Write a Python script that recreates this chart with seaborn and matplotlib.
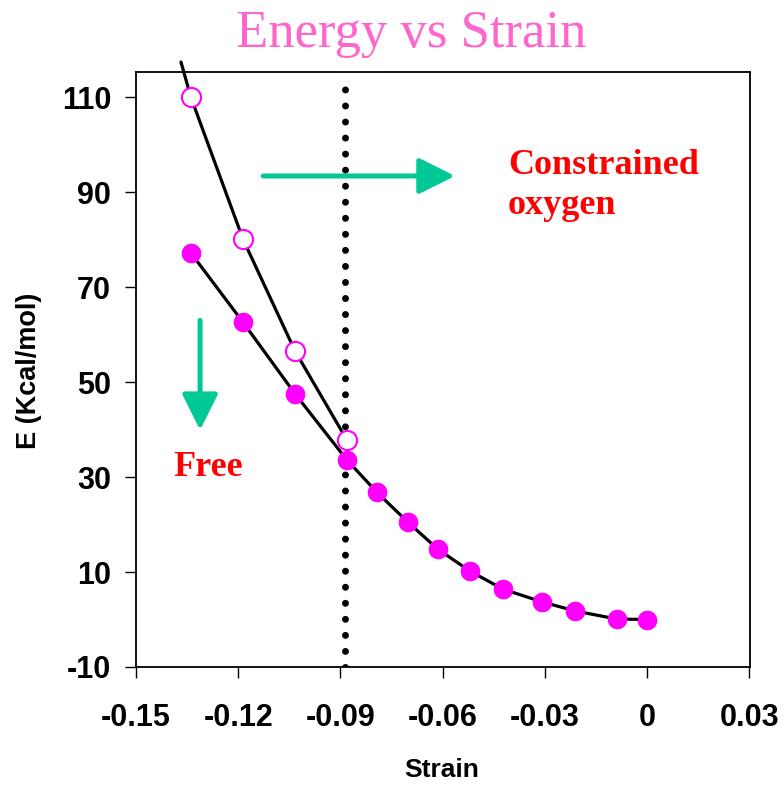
import matplotlib
matplotlib.use("Agg")
import matplotlib.pyplot as plt
import seaborn as sns
import pandas as pd

# Free relaxation: energy vs strain
free_strain = [-0.1339, -0.1186, -0.1033, -0.0881, -0.0793, -0.0702, -0.0614,
               -0.0520, -0.0423, -0.0308, -0.0211, -0.0089, 0.0]
free_energy = [77.2, 62.6, 47.5, 33.6, 26.8, 20.5, 14.8, 10.2, 6.4, 3.7, 1.8, 0.1, 0.0]

# Constrained oxygen: energy vs strain
cons_strain = [-0.1339, -0.1186, -0.1033, -0.0881]
cons_energy = [110.0, 80.1, 56.5, 37.8]
# continuation of the constrained curve beyond the plotted range
cons_ext_strain = [-0.1368]
cons_ext_energy = [117.4]

critical_strain = -0.0887

x_ticks = [-0.15, -0.12, -0.09, -0.06, -0.03, 0, 0.03]
x_tick_labels = ["-0.15", "-0.12", "-0.09", "-0.06", "-0.03", "0", "0.03"]
y_ticks = [-10, 10, 30, 50, 70, 90, 110]

sns.set_theme(style="white")
plt.rcParams["font.family"] = ["Liberation Sans", "DejaVu Sans"]
plt.rcParams.update({"text.color": "black", "axes.labelcolor": "black",
                     "xtick.color": "black", "ytick.color": "black"})

fig = plt.figure(figsize=(7.84, 7.87), dpi=100)
ax = fig.add_axes([136 / 784, 1 - 667 / 787, (750 - 136) / 784, (667 - 72) / 787])

free_df = pd.DataFrame({"strain": free_strain, "energy": free_energy})
cons_line_df = pd.DataFrame({"strain": cons_ext_strain + cons_strain,
                             "energy": cons_ext_energy + cons_energy})
cons_df = pd.DataFrame({"strain": cons_strain, "energy": cons_energy})

magenta = "#FF00FF"
teal = "#00C896"

# vertical dotted marker at the critical strain
ax.axvline(critical_strain, ymin=0, ymax=0.98, color="black", lw=5,
           linestyle=(0, (0.01, 2.3)), dash_capstyle="round", zorder=1)

# connecting curves
sns.lineplot(data=cons_line_df, x="strain", y="energy", color="black", lw=2.3,
             sort=False, ax=ax, zorder=2, clip_on=False)
sns.lineplot(data=free_df, x="strain", y="energy", color="black", lw=2.3,
             sort=False, ax=ax, zorder=2)

# markers
sns.scatterplot(data=cons_df, x="strain", y="energy", s=190, facecolor="white",
                edgecolor=magenta, linewidth=1.5, ax=ax, zorder=3)
sns.scatterplot(data=free_df, x="strain", y="energy", s=200, color=magenta,
                edgecolor=magenta, linewidth=0, ax=ax, zorder=4)

# arrows
arrow_kw = dict(arrowstyle="-|>,head_length=1.1,head_width=0.55", color=teal,
                lw=3.6, mutation_scale=20, shrinkA=0, shrinkB=0)
ax.annotate("", xy=(-0.0564, 93.4), xytext=(-0.1127, 93.4), arrowprops=arrow_kw)
ax.annotate("", xy=(-0.1312, 39.9), xytext=(-0.1312, 63.0), arrowprops=arrow_kw)

serif = ["Liberation Serif", "DejaVu Serif"]
ax.text(-0.0408, 99.0, "Constrained\noxygen", color="red", fontsize=26,
        fontweight="bold", family=serif, ha="left", va="top", linespacing=1.25)
ax.text(-0.1391, 35.5, "Free", color="red", fontsize=26, fontweight="bold",
        family=serif, ha="left", va="top")

fig.text(411 / 784, 1 - 47 / 787, "Energy vs Strain", color="#FF66CC",
         fontsize=38, family=serif, ha="center", va="baseline")

ax.set_xlim(-0.15, 0.0302)
ax.set_ylim(-10, 115.3)
ax.set_xticks(x_ticks)
ax.set_xticklabels(x_tick_labels)
ax.set_yticks(y_ticks)
ax.set_yticklabels([str(v) for v in y_ticks])
ax.tick_params(axis="both", direction="out", length=8, width=1, color="black",
               labelcolor="black", labelsize=22, bottom=True, left=True)
for lab in ax.get_xticklabels() + ax.get_yticklabels():
    lab.set_fontweight("bold")
ax.tick_params(axis="x", pad=18)
ax.tick_params(axis="y", pad=10)

for side in ["left", "right", "top", "bottom"]:
    ax.spines[side].set_visible(True)
    ax.spines[side].set_color("black")
    ax.spines[side].set_linewidth(1.3)

ax.set_xlabel("Strain", fontsize=19, fontweight="bold")
ax.set_ylabel("E (Kcal/mol)", fontsize=19.5, fontweight="bold")
ax.xaxis.set_label_coords((442 - 136) / 614, -(770 - 667) / 595)
ax.yaxis.set_label_coords(-(136 - 29) / 614, (667 - 371) / 595)
ax.xaxis.label.set_va("center")
ax.yaxis.label.set_va("center")
ax.grid(False)

fig.savefig("out.png", dpi=100, facecolor="white")
